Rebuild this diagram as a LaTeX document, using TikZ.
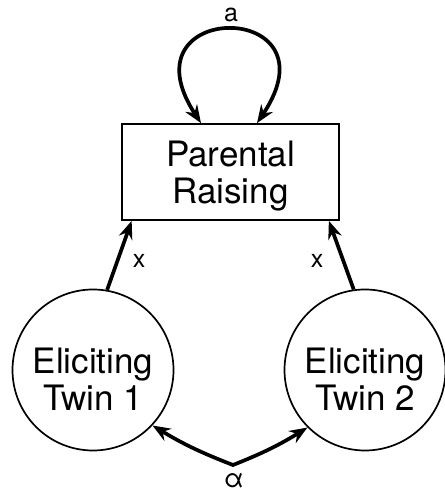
\documentclass[tikz,border=0pt]{standalone}
\usepackage{fontspec}
\setmainfont{TeX Gyre Heros}
\usetikzlibrary{arrows.meta}
\tikzset{hd/.tip={Stealth[length=18pt,width=14pt,inset=6pt]}}
\begin{document}
\begin{tikzpicture}[x=1pt,y=1pt,
  big/.style={font=\fontsize{35}{37}\selectfont, align=center, text depth=0pt, inner sep=0pt},
  lbl/.style={font=\fontsize{25}{27}\selectfont, inner sep=0pt},
  box/.style={draw, line width=1.7pt, minimum width=217pt, minimum height=96pt, inner sep=0pt},
  twin/.style={draw, circle, line width=1.7pt, minimum size=161pt, inner sep=0pt},
  link/.style={line width=3.7pt}
]
\useasboundingbox (0,0) rectangle (444,494);

% shared environment and the two twins
\node[box, big] (r) at (230.5,322) {Parental\\Raising};
\node[twin] (c1) at (93,124) {};
\node[twin] (c2) at (365,124) {};
\node[big] (t1) at (93,114.5) {Eliciting\\Twin 1};
\node[big] (t2) at (365,114.5) {Eliciting\\Twin 2};

% attachment points on the box
\coordinate (la) at ([xshift=-29.5pt]r.north);
\coordinate (ra) at ([xshift=26.5pt]r.north);
\coordinate (lb) at ([xshift=10.5pt]r.south west);
\coordinate (rb) at ([xshift=-11pt]r.south east);
\coordinate (v) at (233,29);

% feedback loop on parental raising
\draw[link, hd-hd] (la) .. controls +(-81,124) and +(83,124) .. (ra);
\node[lbl] (a) at (231,479) {a};

% paths from each twin to the parents
\draw[link, -hd] (c1.80) -- (lb);
\draw[link, -hd] (c2.98) -- (rb);
\node[lbl] (x1) at (139,233) {x};
\node[lbl] (x2) at (317,233) {x};

% correlation between the twins
\draw[link, hd-hd] (c1.-43) to[bend right=5] (v) to[bend right=5] (c2.225);
\node[lbl, font=\fontsize{26}{28}\selectfont, anchor=base] (al) at (234,6) {α};
\end{tikzpicture}
\end{document}
